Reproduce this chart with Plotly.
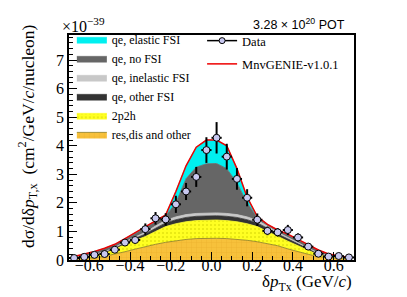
import plotly.graph_objects as go

# bin centres (GeV/c)
x_centers = [-0.675, -0.625, -0.575, -0.525, -0.475, -0.425, -0.375, -0.325, -0.275, -0.225,
             -0.175, -0.125, -0.075, -0.025, 0.025, 0.075, 0.125, 0.175, 0.225, 0.275,
             0.325, 0.375, 0.425, 0.475, 0.525, 0.575, 0.625, 0.675]
bin_half_width = 0.025

# data (x 1e-39 cm^2/GeV/c/nucleon)
data_vals = [0.07, 0.11, 0.18, 0.21, 0.36, 0.61, 0.70, 1.08, 1.46, 1.42,
             1.95, 2.40, 2.91, 3.85, 4.28, 3.62, 2.84, 2.18, 1.41, 1.02,
             0.97, 1.05, 0.79, 0.47, 0.22, 0.12, 0.14, 0.09]
data_errs = [0.03, 0.04, 0.05, 0.06, 0.08, 0.10, 0.12, 0.20, 0.22, 0.22,
             0.30, 0.30, 0.35, 0.45, 0.55, 0.45, 0.38, 0.30, 0.22, 0.15,
             0.15, 0.18, 0.14, 0.08, 0.06, 0.04, 0.04, 0.03]

# MC components (stacked, bottom -> top)
res_dis = [0.03, 0.05, 0.08, 0.13, 0.20, 0.29, 0.38, 0.47, 0.55, 0.62,
           0.68, 0.72, 0.75, 0.76, 0.76, 0.75, 0.73, 0.69, 0.64, 0.57,
           0.50, 0.39, 0.29, 0.20, 0.12, 0.08, 0.05, 0.03]
two_p2h = [0.03, 0.05, 0.08, 0.11, 0.17, 0.26, 0.30, 0.35, 0.45, 0.55,
           0.59, 0.62, 0.63, 0.64, 0.64, 0.63, 0.61, 0.58, 0.53, 0.43,
           0.32, 0.27, 0.21, 0.13, 0.06, 0.03, 0.02, 0.02]
qe_other = [0.01, 0.015, 0.02, 0.03, 0.04, 0.05, 0.07, 0.09, 0.11, 0.13,
            0.14, 0.15, 0.15, 0.15, 0.15, 0.15, 0.15, 0.14, 0.13, 0.11,
            0.09, 0.08, 0.06, 0.05, 0.04, 0.02, 0.015, 0.01]
qe_inel = [0.01, 0.01, 0.015, 0.02, 0.03, 0.04, 0.05, 0.06, 0.08, 0.09,
           0.10, 0.10, 0.10, 0.10, 0.10, 0.10, 0.10, 0.10, 0.09, 0.08,
           0.06, 0.05, 0.04, 0.03, 0.02, 0.015, 0.01, 0.01]
qe_nofsi = [0.03, 0.06, 0.085, 0.10, 0.09, 0.08, 0.12, 0.15, 0.16, 0.15,
            0.49, 1.26, 1.62, 1.72, 1.73, 1.57, 1.11, 0.49, 0.09, 0.03,
            0.05, 0.08, 0.10, 0.10, 0.10, 0.055, 0.035, 0.015]
qe_elastic = [0.01, 0.015, 0.02, 0.02, 0.02, 0.03, 0.03, 0.03, 0.03, 0.04,
              0.40, 0.45, 0.70, 0.83, 0.82, 0.80, 0.50, 0.20, 0.04, 0.03,
              0.03, 0.03, 0.02, 0.02, 0.01, 0.01, 0.01, 0.005]

components = [
    ("res,dis and other", res_dis, "#F7C13B", dict(shape="+", fgcolor="#E0A020", bgcolor="#F7C13B", size=5, solidity=0.15), "#8a7a20"),
    ("2p2h", two_p2h, "#FFFF22", dict(shape=".", fgcolor="#C8C800", bgcolor="#FFFF22", size=4, solidity=0.2), "#FFFF22"),
    ("qe, other FSI", qe_other, "#333333", None, "#333333"),
    ("qe, inelastic FSI", qe_inel, "#C8C8C8", None, "#C8C8C8"),
    ("qe, no FSI", qe_nofsi, "#666666", None, "#666666"),
    ("qe, elastic FSI", qe_elastic, "#00F0F0", None, "#00F0F0"),
]

total_mc = [sum(v) for v in zip(*[c[1] for c in components])]

SERIF = "Liberation Serif"
SANS = "Liberation Sans"

fig = go.Figure()

for name, vals, col, pat, lcol in components:
    kw = dict(
        x=x_centers, y=vals, name=name, mode="lines", stackgroup="mc",
        line=dict(color=lcol, width=0.8), fillcolor=col, legend="legend",
        hoverinfo="skip",
    )
    if pat is not None:
        kw["fillpattern"] = pat
    fig.add_trace(go.Scatter(**kw))

fig.add_trace(go.Scatter(
    x=x_centers, y=total_mc, mode="lines", line=dict(color="#EE0000", width=1.5),
    name="MnvGENIE-v1.0.1", showlegend=False,
))

fig.add_trace(go.Scatter(
    x=x_centers, y=data_vals, mode="markers", showlegend=False,
    marker=dict(symbol="circle", size=7, color="#C8C8F0", line=dict(color="black", width=1)),
    error_y=dict(type="data", array=data_errs, color="black", thickness=2, width=0),
    error_x=dict(type="constant", value=bin_half_width, color="black", thickness=2, width=0),
))

# legend proxies for right legend
fig.add_trace(go.Scatter(
    x=[None], y=[None], mode="lines+markers", name="Data", legend="legend2", legendgroup="d",
    line=dict(color="black", width=1.5),
    marker=dict(symbol="circle", size=6, color="#C8C8F0", line=dict(color="black", width=1)),
))
fig.add_trace(go.Scatter(
    x=[None], y=[None], mode="lines", name="MnvGENIE-v1.0.1", legend="legend2", legendgroup="m",
    line=dict(color="#EE0000", width=1.5),
))

fig.update_layout(
    width=407, height=297,
    margin=dict(l=61, r=61, t=27, b=45),
    paper_bgcolor="white", plot_bgcolor="white",
    font=dict(family=SERIF, size=14, color="black"),
    showlegend=True,
    legend=dict(
        x=0.01, y=1.045, xanchor="left", yanchor="top",
        traceorder="reversed", bgcolor="rgba(0,0,0,0)",
        font=dict(family=SERIF, size=12), itemwidth=30,
        tracegroupgap=0,
    ),
    legend2=dict(
        x=0.467, y=1.04, xanchor="left", yanchor="top",
        bgcolor="rgba(0,0,0,0)", font=dict(family=SERIF, size=12.5), itemwidth=30,
        tracegroupgap=4,
    ),
    xaxis=dict(
        range=[-0.7, 0.7], showgrid=False, zeroline=False,
        showline=True, linecolor="black", linewidth=1.5, mirror=True,
        ticks="inside", ticklen=8, tickwidth=1, tickcolor="black",
        dtick=0.2, tick0=0, tickformat=".1f", ticklabelstandoff=-10,
        minor=dict(ticks="inside", ticklen=4, dtick=0.05, tick0=0, tickcolor="black"),
        tickfont=dict(family=SERIF, size=16),
    ),
    yaxis=dict(
        range=[0, 7.88], showgrid=False, zeroline=False,
        showline=True, linecolor="black", linewidth=1.5, mirror=True,
        ticks="inside", ticklen=8, tickwidth=1, tickcolor="black",
        dtick=1, tick0=0,
        minor=dict(ticks="inside", ticklen=4, dtick=0.2, tick0=0, tickcolor="black"),
        tickfont=dict(family=SERIF, size=16),
    ),
    annotations=[
        dict(text="dσ/dδ<i>p</i><sub>T,x</sub>  (cm<sup>2</sup>/GeV/<i>c</i>/nucleon)",
             xref="paper", yref="paper", x=-0.145, y=0.55, xanchor="center", yanchor="middle",
             textangle=-90, showarrow=False, font=dict(family=SERIF, size=17.5)),
        dict(text="×10<sup>−39</sup>", xref="paper", yref="paper", x=-0.03, y=1.045,
             xanchor="left", yanchor="middle", showarrow=False, font=dict(family=SERIF, size=16)),
        dict(text="3.28 × 10<sup>20</sup> POT", xref="paper", yref="paper", x=0.975, y=1.049,
             xanchor="right", yanchor="middle", showarrow=False, font=dict(family=SANS, size=12.5)),
        dict(text="δ<i>p</i><sub>Tx</sub> (GeV/<i>c</i>)", xref="paper", yref="paper", x=1.0, y=-0.1,
             xanchor="right", yanchor="middle", showarrow=False, font=dict(family=SERIF, size=17)),
    ],
)

fig.write_html("out.html")
